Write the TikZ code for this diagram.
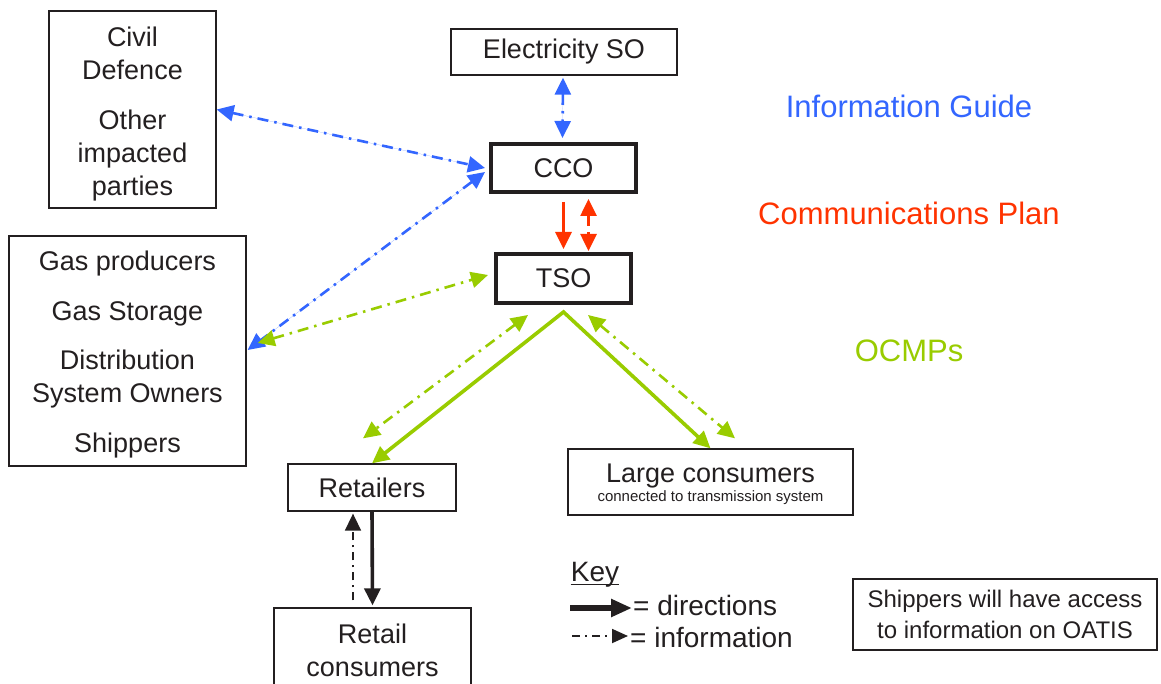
\documentclass[tikz,border=0pt]{standalone}
\usepackage{fontspec}
\setmainfont{Liberation Sans}
\usetikzlibrary{arrows.meta,calc}
\definecolor{cblue}{HTML}{3366FF}
\definecolor{cred}{HTML}{FF3300}
\definecolor{cgreen}{HTML}{99CC00}
\definecolor{ink}{HTML}{231F20}
\tikzset{
  txt/.style={inner sep=0pt, text=ink, font=\fontsize{27}{33}\selectfont},
  keytxt/.style={txt, font=\fontsize{28}{33}\selectfont},
  box/.style={draw=ink, line width=1.3pt, inner sep=0pt, text=ink, align=center, font=\fontsize{27}{33}\selectfont},
  thickbox/.style={box, line width=4pt},
  tip/.style={-{Triangle[length=17pt,width=16pt]}},
  dtip/.style={{Triangle[length=17pt,width=16pt]}-{Triangle[length=17pt,width=16pt]}},
  infoline/.style={dash pattern=on 11pt off 6pt on 2.5pt off 6pt},
  blueinfo/.style={draw=cblue, line width=2.6pt, infoline, dtip, fill=cblue},
  greeninfo/.style={draw=cgreen, line width=2.6pt, infoline, dtip},
  keyinfo/.style={dash pattern=on 8pt off 5pt on 2pt off 5pt},
  planlabel/.style={inner sep=0pt, font=\fontsize{31}{36}\selectfont}
}
\begin{document}
\begin{tikzpicture}[x=1pt,y=-1pt]
\useasboundingbox (0,0) rectangle (1161,684);
\clip (0,0) rectangle (1161,684);
\fill[white] (0,0) rectangle (1161,684);

% boxes
\node[box, minimum width=167pt, minimum height=197pt] (civ) at (132.5,109.5)
  {\rule{0pt}{28pt}Civil\\Defence\\[17pt]Other\\impacted\\parties};
\node[box, minimum width=226pt, minimum height=46pt] (elec) at (564,52) {Electricity SO};
\node[thickbox, minimum width=145pt, minimum height=48pt] (cco) at (563.5,168) {CCO};
\node[thickbox, minimum width=135pt, minimum height=49pt] (tso) at (563.5,278.5) {TSO};
\node[box, minimum width=237pt, minimum height=230pt] (gas) at (127.5,351)
  {\rule{0pt}{27pt}Gas producers\\[17pt]Gas Storage\\[16pt]Distribution\\System Owners\\[17pt]Shippers};
\node[box, minimum width=168pt, minimum height=47pt] (ret) at (372,487.5) {Retailers};
\node[box, minimum width=285pt, minimum height=66pt] (large) at (710.5,482) {};
\node[txt] (largetxt) at (710.5,476) {Large consumers};
\node[txt, font=\fontsize{15}{18}\selectfont] (largesub) at (710.5,498) {connected to transmission system};
\node[box, minimum width=197pt, minimum height=104pt] (rc) at (372.5,660) {};
\node[txt, align=center] (rctxt) at (372.5,650) {Retail\\consumers};
\node[box, minimum width=304pt, minimum height=71pt, font=\fontsize{24}{31}\selectfont] (ship) at (1005,614.5)
  {Shippers will have access\\to information on OATIS};

% plan labels
\node[planlabel, text=cblue] (ig) at (909,106) {Information Guide};
\node[planlabel, text=cred] (cp) at (909,213) {Communications Plan};
\node[planlabel, text=cgreen] (oc) at (909,351) {OCMPs};

% blue information links
\draw[blueinfo] (civ.east) -- ($(cco.west)+(-4,0)$);
\draw[blueinfo] ($(cco.west)+(-4,4)$) -- ($(gas.east)+(1,-1)$);
\draw[blueinfo] ($(elec.south)+(-1,2)$) -- ($(cco.north)+(-1,-4)$);

% red links
\draw[cred, line width=3pt, tip] ($(cco.south)+(0,8)$) -- ($(tso.north)+(0,-3)$);
\draw[cred, line width=2.6pt, infoline, dtip] ($(cco.south)+(25,5)$) -- ($(tso.north)+(25,-1)$);

% green links
\draw[greeninfo] ($(gas.east)+(11,-8)$) -- ($(tso.west)+(-6,-3.5)$);
\coordinate (apex) at ($(tso.south)+(0,7)$);
\draw[cgreen, line width=3.6pt, line join=miter, dtip] (ret.north) -- (apex) -- (large.north);
\draw[greeninfo] ($(tso.south)+(-35.5,10)$) -- ($(ret.north)+(-9,-25)$);
\draw[greeninfo] ($(tso.south)+(24.5,10)$) -- ($(large.north)+(24.5,-10)$);

% black retail links
\draw[ink, line width=3.6pt, tip] (ret.south) -- ($(rc.north)+(0,-2)$);
\draw[ink, line width=1.6pt, keyinfo, tip]
  ($(rc.north)+(-19.5,-7)$) -- ($(ret.south)+(-19,2)$);

% key
\node[keytxt] (key) at (595,575) {Key};
\draw[ink, line width=1.5pt] ($(key.base west)+(0,3)$) -- ($(key.base east)+(0,3)$);
\node[keytxt, anchor=west] (kdir) at (633,605) {= directions};
\node[keytxt, anchor=west] (kinf) at (630,637) {= information};
\coordinate (kd0) at (570,608);
\coordinate (ki0) at (572,636);
\draw[ink, line width=5.5pt, -{Triangle[length=21pt,width=17pt]}] (kd0) -- ($(kdir.west |- kd0)+(-1,0)$);
\draw[ink, line width=1.8pt, keyinfo, -{Triangle[length=16pt,width=14pt]}]
  (ki0) -- ($(kinf.west |- ki0)+(-2,0)$);
\end{tikzpicture}
\end{document}
